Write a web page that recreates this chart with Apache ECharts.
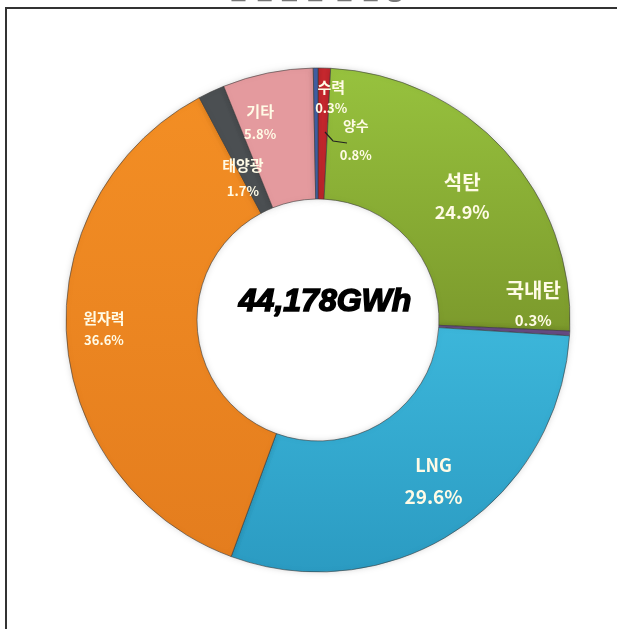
<!DOCTYPE html>
<html>
<head>
    <meta charset="utf-8">
    <title>발전원별 발전량</title>
    <script src="https://cdn.jsdelivr.net/npm/echarts@6/dist/echarts.min.js"></script>
    <style>
        body {
            margin: 0;
            padding: 0;
            background-color: #ffffff;
        }
        #chart {
            width: 617px;
            height: 629px;
        }
    </style>
</head>
<body>
    <div id="chart"></div>

    <script>
        // 발전원별 비중 (%), 12시 방향부터 시계방향
        var sources = ['양수', '석탄', '국내탄', 'LNG', '원자력', '태양광', '기타', '수력'];
        var shares = [0.8, 24.9, 0.3, 29.6, 36.6, 1.7, 5.8, 0.3];
        var totalText = '44,178GWh';

        var colors = [
            '#c8282f',
            new echarts.graphic.LinearGradient(0, 0, 0, 1, [
                { offset: 0, color: '#97c23e' },
                { offset: 1, color: '#7c9a2c' }
            ]),
            '#6b4f8a',
            new echarts.graphic.LinearGradient(0, 0, 0, 1, [
                { offset: 0, color: '#3cb6da' },
                { offset: 1, color: '#2b9bc2' }
            ]),
            new echarts.graphic.LinearGradient(0, 0, 0, 1, [
                { offset: 0, color: '#f38e24' },
                { offset: 1, color: '#e47d1e' }
            ]),
            '#4b4f52',
            '#e49a9e',
            '#3f5ea3'
        ];

        // 라벨 위치 보정 (슬라이스 중앙 기준)
        var labelOffsets = [[33, 10], [4, 5], [26, -25], [12, 2], [-25, -4], [5, 30], [-20, -12], [15, -33]];
        var nameSizes = [14, 20, 20, 18, 15, 15, 15, 15];
        var valueSizes = [13, 18, 15, 19, 13, 13, 13, 13];
        var lineGaps = [30, 30, 30, 32, 22, 25, 23, 21];

        var chart = echarts.init(document.getElementById('chart'));

        var data = sources.map(function (name, i) {
            return {
                name: name,
                value: shares[i],
                itemStyle: { color: colors[i] },
                label: {
                    offset: labelOffsets[i],
                    formatter: '{n|' + name + '}\n{v|' + shares[i].toFixed(1) + '%}',
                    rich: {
                        n: {
                            fontSize: nameSizes[i],
                            fontWeight: 'bold',
                            color: '#fffbe6',
                            lineHeight: lineGaps[i],
                            fontFamily: 'Noto Sans CJK KR'
                        },
                        v: {
                            fontSize: valueSizes[i],
                            fontWeight: 'bold',
                            color: '#fffbe6',
                            lineHeight: lineGaps[i],
                            fontFamily: 'Noto Sans CJK KR'
                        }
                    }
                }
            };
        });

        var option = {
            animation: false,
            graphic: [
                {
                    type: 'rect',
                    shape: { x: 6, y: 8, width: 700, height: 700 },
                    style: { fill: 'none', stroke: '#333', lineWidth: 2 },
                    z: 0
                },
                {
                    type: 'text',
                    left: 228,
                    top: -20,
                    style: {
                        text: '발 전 원 별  발 전 량',
                        font: 'bold 22px "Noto Sans CJK KR"',
                        fill: '#777'
                    }
                },
                {
                    type: 'polyline',
                    shape: { points: [[325, 132], [333, 141], [347, 143]] },
                    style: { stroke: '#222', lineWidth: 1.2, fill: 'none' },
                    z: 10
                },
                {
                    type: 'text',
                    left: 238,
                    top: 285,
                    style: {
                        text: totalText,
                        font: 'italic bold 32px "Liberation Sans"',
                        fill: '#000',
                        stroke: '#000',
                        lineWidth: 1.6
                    },
                    z: 10
                }
            ],
            series: [{
                type: 'pie',
                center: [318, 320],
                radius: [121, 252],
                startAngle: 90,
                clockwise: true,
                avoidLabelOverlap: false,
                label: {
                    show: true,
                    position: 'inside',
                    align: 'center'
                },
                labelLine: { show: false },
                itemStyle: {
                    borderColor: 'rgba(60,60,60,0.6)',
                    borderWidth: 1,
                    shadowBlur: 6,
                    shadowColor: 'rgba(0,0,0,0.15)'
                },
                emphasis: { disabled: true },
                data: data
            }]
        };

        chart.setOption(option);
    </script>
</body>
</html>
